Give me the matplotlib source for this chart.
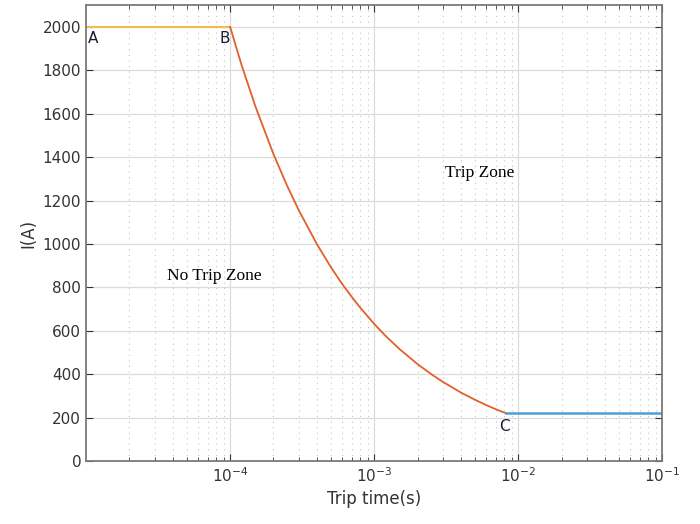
import numpy as np
import matplotlib
matplotlib.use('Agg')
import matplotlib.pyplot as plt
from matplotlib.ticker import LogLocator, NullFormatter, MultipleLocator

# segment A-B: constant current before 1e-4 s
ab_t = [1e-5, 1e-4]
ab_i = [2000, 2000]

# segment B-C: inverse time curve
bc_t = [1e-4, 1.2e-4, 1.5e-4, 2e-4, 2.5e-4, 3e-4, 4e-4, 5e-4, 6e-4, 7e-4, 8e-4,
        1e-3, 1.2e-3, 1.5e-3, 2e-3, 2.5e-3, 3e-3, 4e-3, 5e-3, 6e-3, 7e-3, 8.26e-3]
bc_i = [2000, 1825, 1633, 1414, 1265, 1155, 1000, 894, 816, 756, 707,
        632, 577, 516, 447, 400, 365, 316, 283, 258, 239, 220]

# segment C onwards
c_t = [8.26e-3, 1e-1]
c_i = [220, 220]

fig = plt.figure(figsize=(7, 5.24), dpi=100)
ax = fig.add_axes([0.123, 0.120, 0.823, 0.870])

ax.plot(ab_t, ab_i, color='#F0BC4E', lw=1.5)
ax.plot(bc_t, bc_i, color='#E2602A', lw=1.3)
ax.plot(c_t, c_i, color='#4F9ED9', lw=1.8)

ax.set_xscale('log')
ax.set_xlim(1e-5, 1e-1)
ax.set_ylim(0, 2100)
ax.yaxis.set_major_locator(MultipleLocator(200))
ax.xaxis.set_major_locator(LogLocator(base=10, numticks=10))
ax.xaxis.set_minor_locator(LogLocator(base=10, subs=np.arange(2, 10), numticks=20))
ax.xaxis.set_minor_formatter(NullFormatter())
ax.set_xticks([1e-4, 1e-3, 1e-2, 1e-1])

ax.grid(which='major', color='#dcdcdc', lw=0.9)
ax.grid(which='minor', axis='x', color='#c4c4c4', ls=(0, (1, 4)), lw=0.8)
ax.set_axisbelow(True)

ax.tick_params(which='both', direction='in', top=True, right=True, colors='#333333',
               labelsize=11)
ax.tick_params(which='major', length=5)
ax.tick_params(which='minor', length=3)
for s in ax.spines.values():
    s.set_color('#7a7a7a')
    s.set_linewidth(1.3)

ax.set_xlabel('Trip time(s)', fontsize=12, color='#333333', labelpad=4)
ax.set_ylabel('I(A)', fontsize=12, color='#333333', labelpad=4)

ax.text(1.03e-5, 1949, 'A', fontsize=11, ha='left', va='center', color='#1a1a2e')
ax.text(1e-4, 1945, 'B', fontsize=11, ha='right', va='center', color='#1a1a2e')
ax.text(7.98e-3, 161, 'C', fontsize=11, ha='center', va='center', color='#1a1a2e')
ax.text(5.42e-3, 1329, 'Trip Zone', fontsize=12.5, family='Liberation Serif',
        ha='center', va='center')
ax.text(7.73e-5, 855, 'No Trip Zone', fontsize=12.5, family='Liberation Serif',
        ha='center', va='center')

fig.savefig('out.png', dpi=100)
